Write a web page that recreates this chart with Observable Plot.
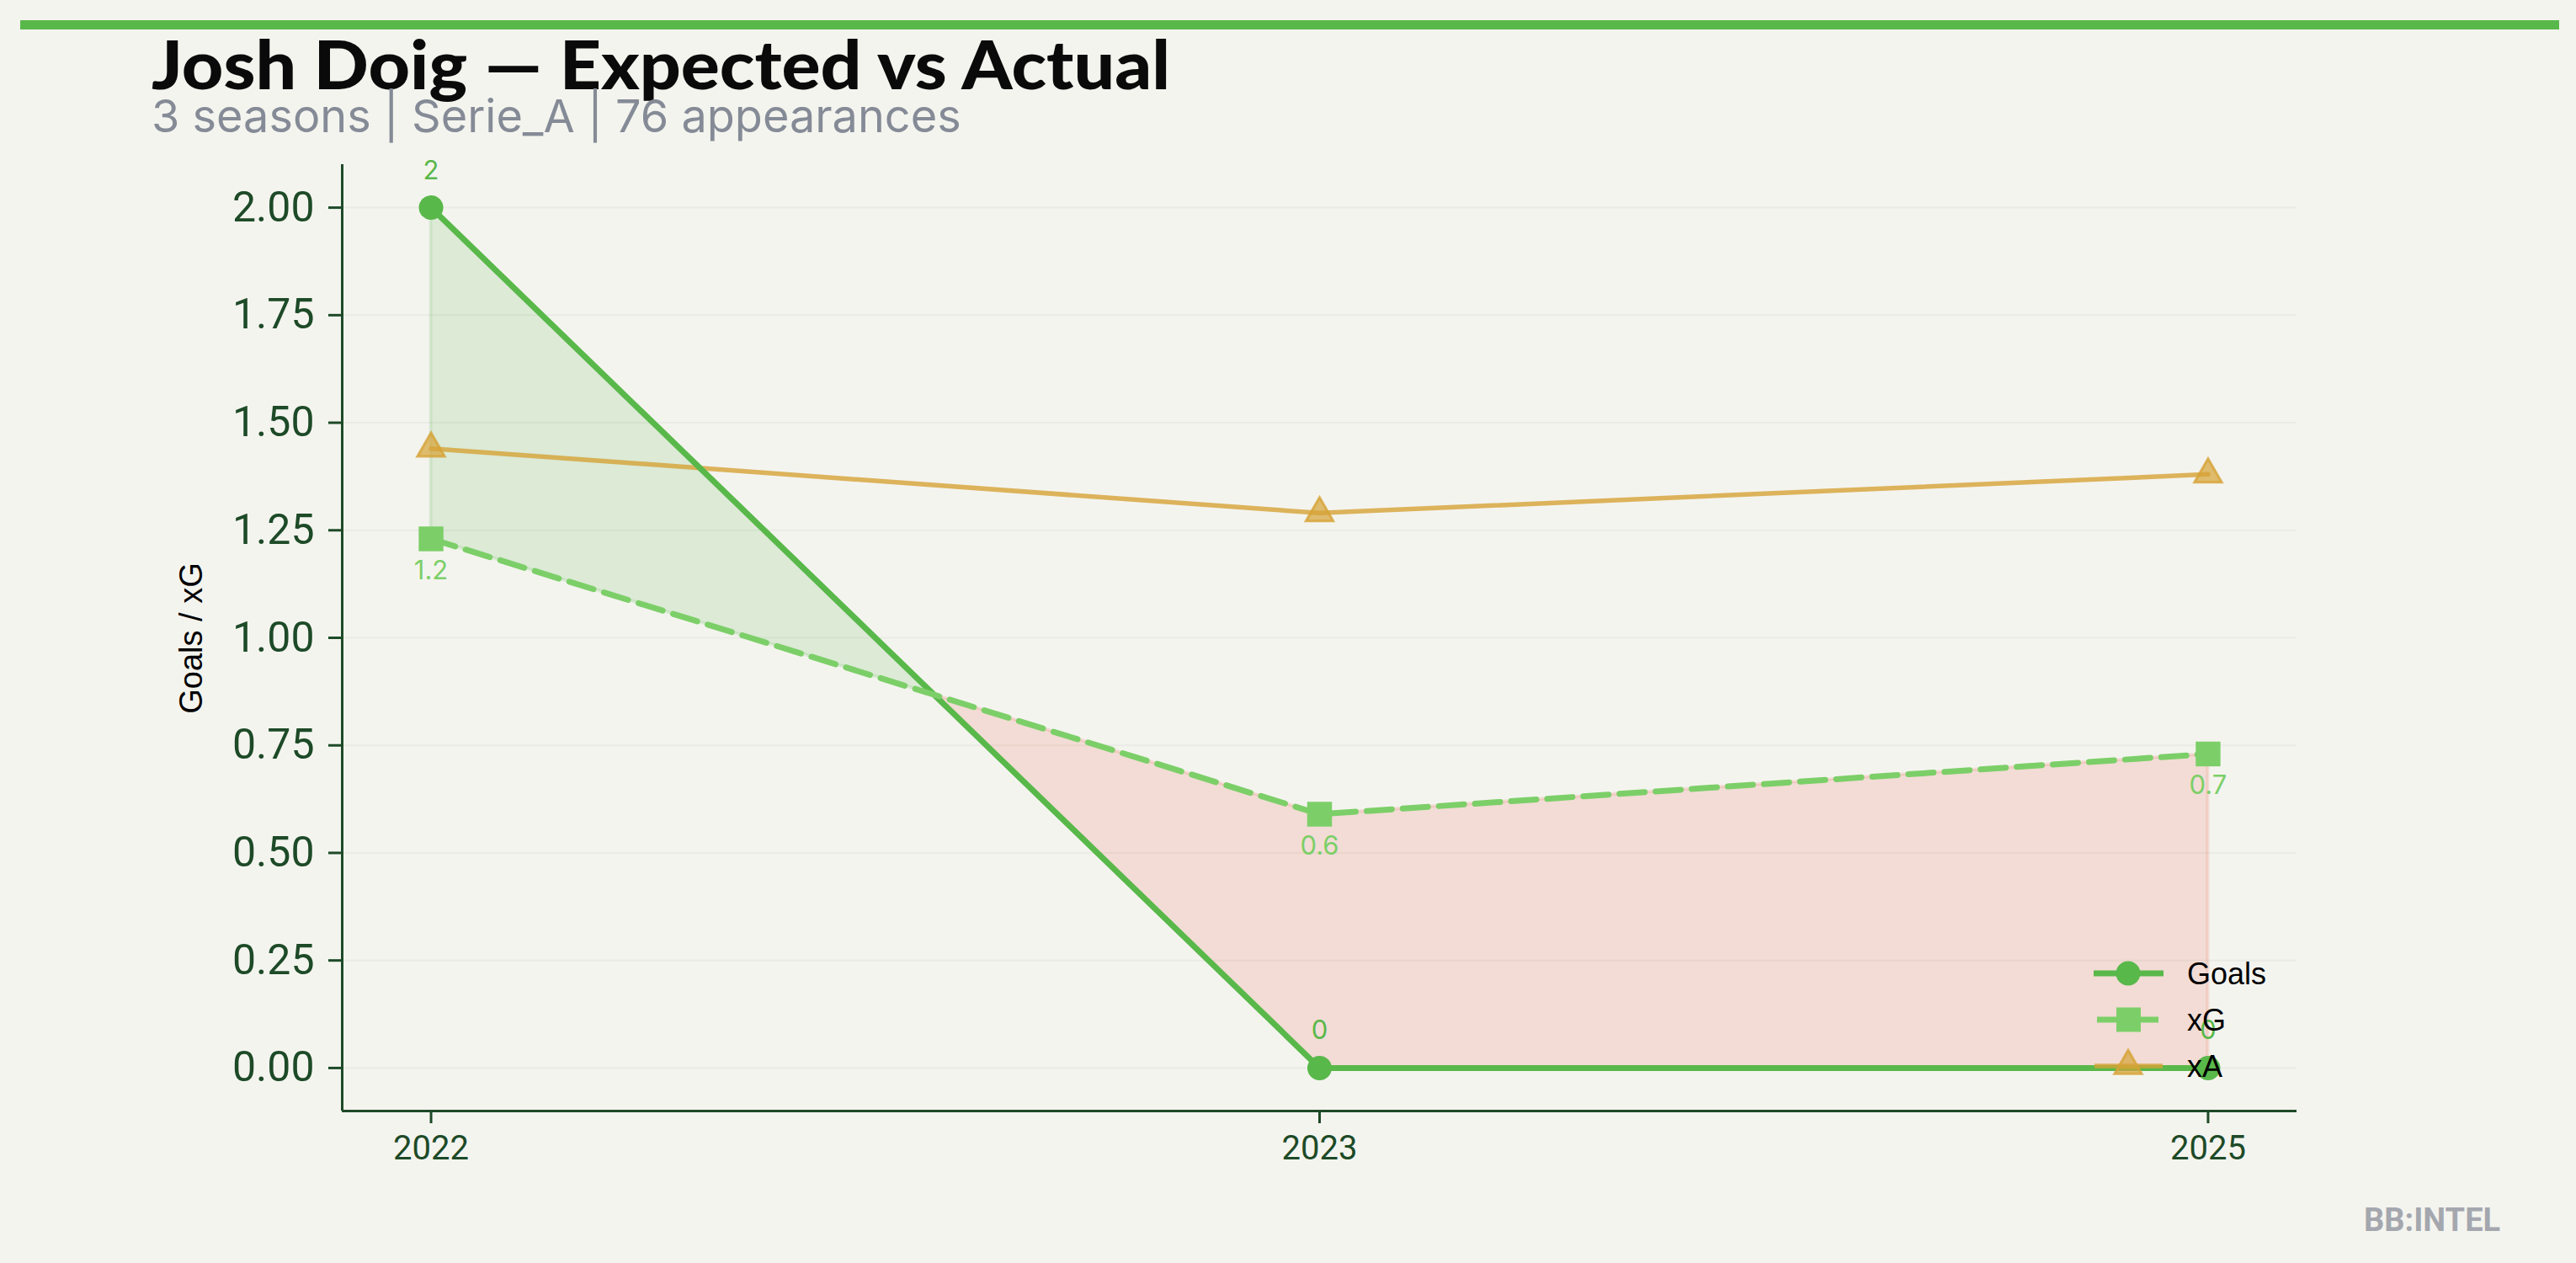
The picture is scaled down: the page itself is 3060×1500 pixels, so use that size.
<!DOCTYPE html>
<html><head><meta charset="utf-8">
<script src="https://cdn.jsdelivr.net/npm/d3@7"></script>
<script src="https://cdn.jsdelivr.net/npm/@observablehq/plot@0.6"></script>
<style>
html,body{margin:0;padding:0;background:#f4f4ef;}
#wrap{position:relative;width:3060px;height:1500px;overflow:hidden;background:#f4f4ef;}
#wrap svg{position:absolute;left:0;top:0;}
</style></head><body><div id="wrap"></div>
<script>
// ---- data ----
const seasons = ["2022", "2023", "2025"];
const goals = [2, 0, 0];
const xg = [1.23, 0.59, 0.73];
const xa = [1.44, 1.29, 1.38];
const yTicks = [0, 0.25, 0.5, 0.75, 1, 1.25, 1.5, 1.75, 2];
const seriesNames = ["Goals", "xG", "xA"];
const titleText = "Josh Doig — Expected vs Actual";
const subtitleText = "3 seasons | Serie_A | 76 appearances";
const yLabel = "Goals / xG";
const brand = "BB:INTEL";

// ---- style ----
const W = 3060, H = 1500;
const GREEN = "#59b84a";
const LIGHT = "#7ccf68";
const GOLD = "#d6a236";
const RED = "#e74c3c";
const DARK = "#1d4a27";

const rows = seasons.map((s, i) => ({i, season: s, goals: goals[i], xg: xg[i], xa: xa[i]}));

// fill segments between Goals and xG, split where they cross
const fillRows = [];
let seg = 0;
for (let i = 0; i < rows.length; i++) {
  const d = goals[i] - xg[i];
  fillRows.push({x: i, a: goals[i], b: xg[i], seg, pos: d >= 0});
  if (i < rows.length - 1) {
    const d1 = goals[i + 1] - xg[i + 1];
    if (d * d1 < 0) {
      const t = d / (d - d1);
      const xc = i + t, yc = goals[i] + t * (goals[i + 1] - goals[i]);
      fillRows.push({x: xc, a: yc, b: yc, seg, pos: d >= 0});
      seg++;
      fillRows.push({x: xc, a: yc, b: yc, seg, pos: d1 >= 0});
    }
  }
}

const xDomain = [-0.1, seasons.length - 1 + 0.1];
const yDomain = [-0.1, 2.1];
const fmt = d3.format(".1~f");

const chart = Plot.plot({
  width: W, height: H,
  marginTop: 195, marginBottom: 181, marginLeft: 406, marginRight: 332,
  style: {background: "transparent", fontFamily: "Roboto", overflow: "visible"},
  x: {type: "linear", domain: xDomain},
  y: {domain: yDomain},
  marks: [
    Plot.gridY(yTicks, {stroke: "#eaebe4", strokeOpacity: 1, strokeWidth: 2}),
    Plot.areaY(fillRows.filter(d => d.pos), {x: "x", y1: "b", y2: "a", z: "seg", fill: GREEN, fillOpacity: 0.15, stroke: GREEN, strokeOpacity: 0.15, strokeWidth: 4}),
    Plot.areaY(fillRows.filter(d => !d.pos), {x: "x", y1: "b", y2: "a", z: "seg", fill: RED, fillOpacity: 0.14, stroke: RED, strokeOpacity: 0.14, strokeWidth: 4}),
    Plot.ruleX([xDomain[0]], {y1: yDomain[0], y2: yDomain[1], stroke: DARK, strokeWidth: 3}),
    Plot.ruleY([yDomain[0]], {x1: xDomain[0], x2: xDomain[1], stroke: DARK, strokeWidth: 3}),
    Plot.axisY(yTicks, {tickFormat: d3.format(".2f"), fontSize: 50, tickSize: 16, tickPadding: 17, color: DARK, strokeWidth: 3, label: null}),
    Plot.axisX(d3.range(seasons.length), {tickFormat: i => seasons[i], fontSize: 40, tickSize: 15, tickPadding: 14, color: DARK, strokeWidth: 3, label: null}),
    Plot.line(rows, {x: "i", y: "xa", stroke: GOLD, strokeOpacity: 0.8, strokeWidth: 5.5}),
    Plot.line(rows, {x: "i", y: "goals", stroke: GREEN, strokeWidth: 7}),
    Plot.line(rows, {x: "i", y: "xg", stroke: LIGHT, strokeWidth: 7, strokeDasharray: "30,13"}),
    Plot.dot(rows, {x: "i", y: "goals", r: 14.5, fill: GREEN}),
    Plot.dot(rows, {x: "i", y: "xg", symbol: "square", r: 16.6, fill: LIGHT}),
    Plot.dot(rows, {x: "i", y: "xa", symbol: "triangle", r: 12, fill: GOLD, fillOpacity: 0.7, stroke: GOLD, strokeOpacity: 0.8, strokeWidth: 3}),
    Plot.text(rows, {x: "i", y: "goals", text: d => fmt(d.goals), dy: -44, fill: GREEN, fontSize: 31, fontFamily: "Inter"}),
    Plot.text(rows, {x: "i", y: "xg", text: d => fmt(d.xg), dy: 38, fill: LIGHT, fontSize: 31, fontFamily: "Inter"})
  ]
});
document.getElementById("wrap").appendChild(chart);

// ---- overlay: header, axis label, legend, brand ----
const ov = d3.select("#wrap").append("svg").attr("width", W).attr("height", H);
ov.append("rect").attr("x", 24).attr("y", 24).attr("width", 3016).attr("height", 11).attr("fill", GREEN);
ov.append("text").attr("x", 180).attr("y", 106)
  .attr("font-family", "Lato").attr("font-weight", 900).attr("font-size", 80).attr("fill", "#0a0a0a")
  .attr("textLength", 1210).attr("lengthAdjust", "spacingAndGlyphs")
  .text(titleText);
ov.append("text").attr("x", 180).attr("y", 157)
  .attr("font-family", "Inter").attr("font-size", 54).attr("fill", "#858b96")
  .text(subtitleText);
ov.append("text").attr("transform", "translate(240,758) rotate(-90)").attr("text-anchor", "middle")
  .attr("font-family", "Liberation Sans").attr("font-size", 38).attr("fill", "#000")
  .text(yLabel);
ov.append("text").attr("x", 2808).attr("y", 1462)
  .attr("font-family", "Roboto").attr("font-weight", 700).attr("font-size", 38).attr("fill", "#a4a7ae")
  .text(brand);

const legendY = [1156, 1211, 1266];
const lg = ov.append("g");
seriesNames.forEach((name, k) => {
  const g = lg.append("g").attr("transform", `translate(0,${legendY[k]})`);
  if (k === 0) {
    g.append("line").attr("x1", 2487).attr("x2", 2570).attr("stroke", GREEN).attr("stroke-width", 7);
    g.append("circle").attr("cx", 2528).attr("r", 14.5).attr("fill", GREEN);
  } else if (k === 1) {
    g.append("line").attr("x1", 2491).attr("x2", 2566).attr("stroke", LIGHT).attr("stroke-width", 7).attr("stroke-dasharray", "30,13");
    g.append("rect").attr("x", 2514).attr("y", -14.5).attr("width", 29).attr("height", 29).attr("fill", LIGHT);
  } else {
    g.append("line").attr("x1", 2488).attr("x2", 2569).attr("stroke", GOLD).attr("stroke-opacity", 0.8).attr("stroke-width", 5.5);
    g.append("path").attr("transform", "translate(2528,0)").attr("d", d3.symbol(d3.symbolTriangle, Math.PI * 144)())
      .attr("fill", GOLD).attr("fill-opacity", 0.7).attr("stroke", GOLD).attr("stroke-opacity", 0.8).attr("stroke-width", 3);
  }
  g.append("text").attr("x", 2598).attr("y", 13)
    .attr("font-family", "Liberation Sans").attr("font-size", 36).attr("fill", "#000").text(name);
});
</script></body></html>
